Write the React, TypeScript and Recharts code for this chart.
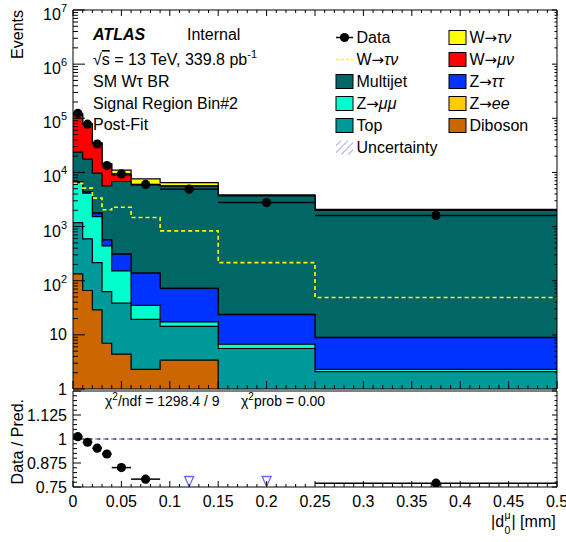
import React from 'react';
import { ComposedChart, Area, Line, Scatter, XAxis, YAxis, ErrorBar, ReferenceLine } from 'recharts';

const FONT = '"Liberation Sans", Arial, Helvetica, sans-serif';

// ---------------- data ----------------
const binEdges = [0, 0.01, 0.02, 0.03, 0.04, 0.06, 0.09, 0.15, 0.25, 0.5];
const diboson = [134, 66, 29, 7, 4.4, 2.3, 3.4, 0, 0];
const topQuark = [1050, 527, 187, 56, 34, 17, 11, 5.6, 2.1];
const zmumu = [5300, 3550, 1310, 377, 114, 15.6, 2.9, 1.1, 0.2];
const ztautau = [200, 240, 240, 128, 157, 103, 55, 17, 6.6];
const zee = [20, 12, 6, 3, 1, 0.5, 0.3, 0.2, 0.1];
const multijet = [16950, 13200, 7920, 5080, 6490, 5760, 5530, 3670, 1980];
const wmunu = [94300, 60400, 24800, 8650, 2240, 50, 30, 30, 10];
const wtaunu = [2000, 1300, 700, 200, 1960, 1650, 870, 130, 75];
const wtaunuSignal = [6300, 5130, 3350, 2040, 2280, 1470, 832, 216, 49];
const dataValues = [123000, 78000, 33500, 13400, 9400, 6000, 4900, 2780, 1600];
const ratioValues = [1.012, 0.983, 0.952, 0.922, 0.851, 0.791, 0.74, 0.72, 0.77];

const xTickLabels = ['0', '0.05', '0.1', '0.15', '0.2', '0.25', '0.3', '0.35', '0.4', '0.45', '0.5'];
const xTickValues = Array.from({ length: 51 }, (_, i) => i / 100);
const logTicks: number[] = [];
for (let d = 0; d < 7; d++) for (let m = 1; m < 10; m++) logTicks.push(m * Math.pow(10, d));
logTicks.push(1e7);
const ratioTicks = Array.from({ length: 21 }, (_, i) => 0.75 + i * 0.025);
const ratioLabels = ['0.75', '0.875', '1', '1.125'];
const chi2Text = { ndf: '1298.4 / 9', prob: '0.00' };

const layers = [
  { key: 'diboson', values: diboson, color: '#cc6600' },
  { key: 'top', values: topQuark, color: '#009999' },
  { key: 'zmumu', values: zmumu, color: '#00ffcc' },
  { key: 'ztautau', values: ztautau, color: '#0033ff' },
  { key: 'zee', values: zee, color: '#ffcc00' },
  { key: 'multijet', values: multijet, color: '#006666' },
  { key: 'wmunu', values: wmunu, color: '#ff0000' },
  { key: 'wtaunu', values: wtaunu, color: '#ffff00' },
];
const colorOf = (k: string) => layers.find((l) => l.key === k)!.color;

const nBins = binEdges.length - 1;
const stepRows = binEdges.map((x, i) => {
  const b = Math.min(i, nBins - 1);
  const row: any = { x };
  let cum = 0;
  layers.forEach((l) => {
    cum += l.values[b];
    row[l.key] = Math.max(cum, 0.01);
  });
  row.signal = wtaunuSignal[b];
  return row;
});

const dataPoints = dataValues.map((v, i) => ({
  x: (binEdges[i] + binEdges[i + 1]) / 2,
  y: v,
  xerr: (binEdges[i + 1] - binEdges[i]) / 2,
}));
const RATIO_MIN = 0.75;
const ratioAll = ratioValues.map((r, i) => ({
  x: (binEdges[i] + binEdges[i + 1]) / 2,
  y: r,
  xerr: (binEdges[i + 1] - binEdges[i]) / 2,
}));
const ratioIn = ratioAll.filter((p) => p.y >= RATIO_MIN);
const ratioOff = ratioAll.filter((p) => p.y < RATIO_MIN).map((p) => ({ x: p.x, y: RATIO_MIN }));

// ---------------- ticks ----------------
const isLogMajor = (v: number) => {
  const lg = Math.log10(v);
  return Math.abs(lg - Math.round(lg)) < 1e-9;
};
const isXMajor = (v: number) => Math.abs(v * 20 - Math.round(v * 20)) < 1e-6;
const isRatioMajor = (v: number) => {
  const t = (v - 0.75) / 0.125;
  return Math.abs(t - Math.round(t)) < 1e-6;
};

const makeLeftLogTick = (maj: number, min: number) => (props: any) => {
  const { x, y, payload } = props;
  const v = payload.value;
  const major = isLogMajor(v);
  const len = major ? maj : min;
  let label: any = null;
  if (major) {
    const e = Math.round(Math.log10(v));
    if (e === 0 || e === 1) {
      label = (
        <text x={x - 6} y={y + 5.5} textAnchor="end" fontSize={16} fontFamily={FONT} fill="#000">
          {e === 0 ? '1' : '10'}
        </text>
      );
    } else {
      label = (
        <text x={x - 6} y={y + 10} textAnchor="end" fontSize={16} fontFamily={FONT} fill="#000">
          10<tspan dy={-8} fontSize={11}>{e}</tspan>
        </text>
      );
    }
  }
  return (
    <g>
      <line x1={x} x2={x + len} y1={y} y2={y} stroke="#000" strokeWidth={1} />
      {label}
    </g>
  );
};
const makeRightTick = (maj: number, min: number, isMajor: (v: number) => boolean) => (props: any) => {
  const { x, y, payload } = props;
  const len = isMajor(payload.value) ? maj : min;
  return <line x1={x} x2={x - len} y1={y} y2={y} stroke="#000" strokeWidth={1} />;
};
const makeXTick = (maj: number, min: number, dir: 'up' | 'down', labels: boolean) => (props: any) => {
  const { x, y, payload } = props;
  const v = payload.value;
  const major = isXMajor(v);
  const len = major ? maj : min;
  return (
    <g>
      <line x1={x} x2={x} y1={y} y2={dir === 'up' ? y - len : y + len} stroke="#000" strokeWidth={1} />
      {labels && major ? (
        <text x={x} y={y + 20} textAnchor="middle" fontSize={16} fontFamily={FONT} fill="#000">
          {xTickLabels[Math.round(v * 20)]}
        </text>
      ) : null}
    </g>
  );
};
const makeRatioLeftTick = (maj: number, min: number) => (props: any) => {
  const { x, y, payload } = props;
  const v = payload.value;
  const major = isRatioMajor(v);
  const idx = Math.round((v - 0.75) / 0.125);
  return (
    <g>
      <line x1={x} x2={x + (major ? maj : min)} y1={y} y2={y} stroke="#000" strokeWidth={1} />
      {major && idx < ratioLabels.length ? (
        <text x={x - 6} y={y + 5.5} textAnchor="end" fontSize={16} fontFamily={FONT} fill="#000">
          {ratioLabels[idx]}
        </text>
      ) : null}
    </g>
  );
};

const DataDot = (p: any) => <circle cx={p.cx} cy={p.cy} r={4.6} fill="#000" />;
const Triangle = (p: any) => (
  <polygon
    points={`${p.cx - 4.5},${p.cy - 10.5} ${p.cx + 4.5},${p.cy - 10.5} ${p.cx},${p.cy - 0.5}`}
    fill="#fff"
    stroke="#6666ff"
    strokeWidth={1.3}
  />
);

// ---------------- legend ----------------
const it = (s: string) => <tspan fontStyle="italic">{s}</tspan>;
const arrow = <tspan fontFamily='"DejaVu Sans", sans-serif' fontSize={15}>→</tspan>;
const legendRows = [0, 1, 2, 3, 4, 5].map((i) => 37.5 + 22 * i);
const legendCol1: any[] = [
  { kind: 'data', label: 'Data' },
  { kind: 'dash', label: <>W{arrow}{it('τν')}</> },
  { kind: 'box', color: colorOf('multijet'), label: 'Multijet' },
  { kind: 'box', color: colorOf('zmumu'), label: <>Z{arrow}{it('μμ')}</> },
  { kind: 'box', color: colorOf('top'), label: 'Top' },
  { kind: 'hatch', label: 'Uncertainty' },
];
const legendCol2: any[] = [
  { kind: 'box', color: colorOf('wtaunu'), label: <>W{arrow}{it('τν')}</> },
  { kind: 'box', color: colorOf('wmunu'), label: <>W{arrow}{it('μν')}</> },
  { kind: 'box', color: colorOf('ztautau'), label: <>Z{arrow}{it('ττ')}</> },
  { kind: 'box', color: colorOf('zee'), label: <>Z{arrow}{it('ee')}</> },
  { kind: 'box', color: colorOf('diboson'), label: 'Diboson' },
];

const LegendEntry = ({ e, x, y }: any) => {
  let marker: any = null;
  if (e.kind === 'box') marker = <rect x={x} y={y - 7} width={17} height={14} fill={e.color} stroke="#000" strokeWidth={1} />;
  if (e.kind === 'data')
    marker = (
      <g>
        <line x1={x} x2={x + 17} y1={y} y2={y} stroke="#000" strokeWidth={1.5} />
        <circle cx={x + 8.5} cy={y} r={4.6} fill="#000" />
      </g>
    );
  if (e.kind === 'dash')
    marker = <line x1={x} x2={x + 17} y1={y} y2={y} stroke="#ffff00" strokeWidth={1.5} strokeDasharray="3 2" />;
  if (e.kind === 'hatch') marker = <rect x={x} y={y - 7} width={17} height={14} fill="url(#hatch)" />;
  return (
    <g>
      {marker}
      <text x={x + 20.5} y={y + 5.8} fontSize={16} fontFamily={FONT} fill="#000">
        {e.label}
      </text>
    </g>
  );
};

const P_LEFT = 72;
const P_RIGHT = 8;

export default function App() {
  const areaOrder = [...layers].reverse();
  return (
    <div style={{ position: 'absolute', left: 0, top: 0, width: 566, height: 542, background: '#fff', fontFamily: FONT }}>
      {/* upper panel */}
      <div style={{ position: 'absolute', left: 0, top: 0 }}>
        <ComposedChart width={566} height={400} data={stepRows} margin={{ top: 9, right: P_RIGHT, bottom: 10, left: P_LEFT }}>
          <XAxis
            type="number"
            dataKey="x"
            domain={[0, 0.5]}
            allowDataOverflow
            ticks={xTickValues}
            interval={0}
            height={1}
            tickSize={0}
            tickMargin={0}
            tickLine={false}
            axisLine={{ stroke: '#000', strokeWidth: 1 }}
            tick={makeXTick(8, 4, 'up', false)}
          />
          <XAxis
            xAxisId="t"
            orientation="top"
            type="number"
            dataKey="x"
            domain={[0, 0.5]}
            allowDataOverflow
            ticks={xTickValues}
            interval={0}
            height={1}
            tickSize={0}
            tickMargin={0}
            tickLine={false}
            axisLine={{ stroke: '#000', strokeWidth: 1 }}
            tick={makeXTick(6, 3, 'down', false)}
          />
          <YAxis
            scale="log"
            type="number"
            domain={[1, 1e7]}
            allowDataOverflow
            ticks={logTicks}
            interval={0}
            width={1}
            tickSize={0}
            tickMargin={0}
            tickLine={false}
            axisLine={{ stroke: '#000', strokeWidth: 1 }}
            tick={makeLeftLogTick(12, 5)}
          />
          <YAxis
            yAxisId="r"
            orientation="right"
            scale="log"
            type="number"
            domain={[1, 1e7]}
            allowDataOverflow
            ticks={logTicks}
            interval={0}
            width={1}
            tickSize={0}
            tickMargin={0}
            tickLine={false}
            axisLine={{ stroke: '#000', strokeWidth: 1 }}
            tick={makeRightTick(5, 2.5, isLogMajor)}
          />
          {areaOrder.map((l) => (
            <Area
              key={l.key}
              type="stepAfter"
              dataKey={l.key}
              baseValue={1}
              stroke="#000"
              strokeWidth={1.2}
              fill={l.color}
              fillOpacity={1}
              dot={false}
              activeDot={false}
              isAnimationActive={false}
            />
          ))}
          <Line
            type="stepAfter"
            dataKey="signal"
            stroke="#ffff00"
            strokeWidth={1.6}
            strokeDasharray="4 3"
            dot={false}
            activeDot={false}
            isAnimationActive={false}
          />
          <Scatter data={dataPoints} dataKey="y" shape={DataDot} isAnimationActive={false}>
            <ErrorBar dataKey="xerr" direction="x" width={0} stroke="#000" strokeWidth={1.5} />
          </Scatter>
        </ComposedChart>
      </div>

      {/* ratio panel */}
      <div style={{ position: 'absolute', left: 0, top: 389 }}>
        <ComposedChart width={566} height={153} margin={{ top: 1, right: P_RIGHT, bottom: 54, left: P_LEFT }}>
          <XAxis
            type="number"
            dataKey="x"
            domain={[0, 0.5]}
            allowDataOverflow
            ticks={xTickValues}
            interval={0}
            height={1}
            tickSize={0}
            tickMargin={0}
            tickLine={false}
            axisLine={{ stroke: '#000', strokeWidth: 1 }}
            tick={makeXTick(6, 3, 'up', true)}
          />
          <XAxis
            xAxisId="t"
            orientation="top"
            type="number"
            dataKey="x"
            domain={[0, 0.5]}
            allowDataOverflow
            ticks={[]}
            height={1}
            tickLine={false}
            axisLine={{ stroke: '#000', strokeWidth: 1 }}
            tick={false}
          />
          <YAxis
            type="number"
            domain={[0.75, 1.25]}
            allowDataOverflow
            ticks={ratioTicks}
            interval={0}
            width={1}
            tickSize={0}
            tickMargin={0}
            tickLine={false}
            axisLine={{ stroke: '#000', strokeWidth: 1 }}
            tick={makeRatioLeftTick(8, 4)}
          />
          <YAxis
            yAxisId="r"
            orientation="right"
            type="number"
            domain={[0.75, 1.25]}
            allowDataOverflow
            ticks={ratioTicks}
            interval={0}
            width={1}
            tickSize={0}
            tickMargin={0}
            tickLine={false}
            axisLine={{ stroke: '#000', strokeWidth: 1 }}
            tick={makeRightTick(5, 2.5, isRatioMajor)}
          />
          <ReferenceLine y={1} stroke="#6666ff" strokeWidth={1} strokeDasharray="2 2" strokeDashoffset={2} />
          <ReferenceLine y={1} stroke="#000" strokeWidth={1} strokeDasharray="3 5" />
          <Scatter data={ratioIn} dataKey="y" shape={DataDot} isAnimationActive={false}>
            <ErrorBar dataKey="xerr" direction="x" width={0} stroke="#000" strokeWidth={1.5} />
          </Scatter>
          <Scatter data={ratioOff} dataKey="y" shape={Triangle} isAnimationActive={false} />
        </ComposedChart>
      </div>

      {/* text overlay */}
      <svg width={566} height={542} style={{ position: 'absolute', left: 0, top: 0, pointerEvents: 'none' }}>
        <defs>
          <pattern id="hatch" patternUnits="userSpaceOnUse" width={5} height={5} patternTransform="rotate(45)">
            <line x1={0} y1={0} x2={0} y2={5} stroke="#6666ff" strokeWidth={1.2} />
          </pattern>
        </defs>
        <g fontFamily={FONT} fill="#000">
          <text x={93} y={40} fontSize={16} fontWeight="bold" fontStyle="italic">ATLAS</text>
          <text x={187} y={40} fontSize={16}>Internal</text>
          <text x={93} y={65} fontSize={16}>
            √<tspan textDecoration="overline">s</tspan> = 13 TeV, 339.8 pb<tspan dy={-7} fontSize={11}>-1</tspan>
          </text>
          <text x={93} y={87} fontSize={16}>SM Wτ BR</text>
          <text x={93} y={108.5} fontSize={16}>Signal Region Bin#2</text>
          <text x={93} y={130} fontSize={16}>Post-Fit</text>

          {legendCol1.map((e, i) => (
            <LegendEntry key={'a' + i} e={e} x={336} y={legendRows[i]} />
          ))}
          {legendCol2.map((e, i) => (
            <LegendEntry key={'b' + i} e={e} x={449} y={legendRows[i]} />
          ))}

          <text x={23} y={10} fontSize={16} textAnchor="end" transform="rotate(-90, 23, 10)">Events</text>
          <text x={23} y={399} fontSize={16} textAnchor="end" transform="rotate(-90, 23, 399)">Data / Pred.</text>

          <text x={105} y={406} fontSize={14}>
            χ<tspan dy={-6} fontSize={10}>2</tspan><tspan dy={6}>/ndf = {chi2Text.ndf}</tspan>
          </text>
          <text x={241} y={406} fontSize={14}>
            χ<tspan dy={-6} fontSize={10}>2</tspan><tspan dy={6}>prob = {chi2Text.prob}</tspan>
          </text>

          <text x={491} y={527} fontSize={16}>|d</text>
          <text x={504.5} y={534} fontSize={10.5}>0</text>
          <text x={504.5} y={519} fontSize={10.5}>μ</text>
          <text x={511.5} y={527} fontSize={16}>| [mm]</text>
        </g>
      </svg>
    </div>
  );
}
